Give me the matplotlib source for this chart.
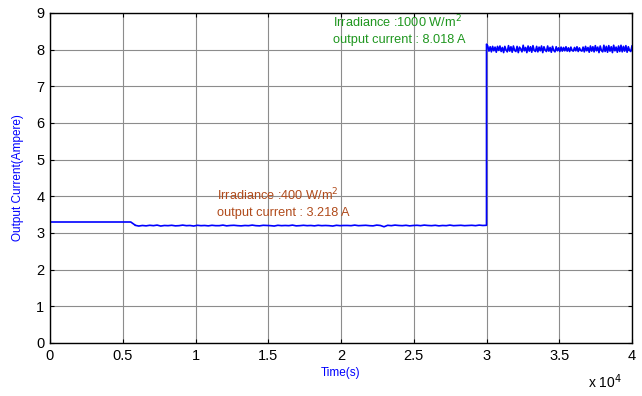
import numpy as np
import matplotlib
matplotlib.use('Agg')
import matplotlib.pyplot as plt

plt.rcParams['font.family'] = ['Liberation Sans', 'DejaVu Sans']

# step segment at start (time, current)
start_t = [0, 0, 5550, 5850]
start_i = [0.0, 3.30, 3.30, 3.215]

# irradiance 400 W/m2 readings, 5850 .. 30000
low_i = [3.21, 3.19, 3.205, 3.195, 3.21, 3.2, 3.215, 3.19, 3.205, 3.2,
         3.21, 3.195, 3.2, 3.215, 3.2, 3.205, 3.19, 3.21, 3.2, 3.205,
         3.195, 3.21, 3.2, 3.2, 3.215, 3.195, 3.205, 3.21, 3.2, 3.195,
         3.205, 3.2, 3.215, 3.2, 3.195, 3.21, 3.205, 3.2, 3.19, 3.21,
         3.2, 3.205, 3.2, 3.215, 3.195, 3.2, 3.21, 3.2, 3.205, 3.195,
         3.21, 3.2, 3.205, 3.2, 3.19, 3.21, 3.2, 3.205, 3.205, 3.2,
         3.215, 3.2, 3.205, 3.21, 3.2, 3.195, 3.215, 3.205, 3.17, 3.21,
         3.2, 3.215, 3.205, 3.2, 3.21, 3.195, 3.205, 3.21, 3.2, 3.215,
         3.205, 3.2, 3.21, 3.195, 3.205, 3.2, 3.215, 3.2, 3.205, 3.21,
         3.2, 3.205, 3.21, 3.2, 3.215, 3.205, 3.21]

# irradiance 1000 W/m2 readings, 30000 .. 40000
high_i = [8.15, 8.10, 7.96, 8.08, 7.94, 8.09, 7.97, 8.07, 7.93, 8.09,
          7.98, 8.10, 7.95, 8.06, 7.92, 8.09, 7.99, 7.94, 8.11, 7.96,
          8.08, 7.93, 8.10, 7.98, 7.95, 8.09, 7.92, 8.07, 8.02, 7.94,
          8.12, 7.97, 8.06, 7.92, 8.10, 7.96, 8.08, 7.93, 8.11, 7.98,
          7.95, 8.09, 7.94, 8.07, 7.97, 8.10, 7.92, 8.08, 7.99, 7.95,
          8.10, 7.96, 8.06, 7.93, 8.09, 7.98, 7.94, 8.08, 7.97, 8.05,
          7.95, 8.07, 7.96, 8.06, 7.97, 8.08, 7.96, 8.05, 7.95, 8.07,
          7.98, 7.96, 8.06, 7.97, 8.08, 7.95, 8.05, 7.98, 7.96, 8.07,
          7.94, 8.09, 7.97, 8.06, 7.93, 8.10, 7.96, 8.08, 7.94, 8.11,
          7.97, 8.07, 7.92, 8.10, 7.98, 7.94, 8.12, 7.95, 8.09, 7.93,
          8.11, 7.96, 8.08, 7.92, 8.12, 7.97, 8.07, 7.93, 8.10, 7.95,
          8.12, 7.94, 8.09, 7.96, 8.11, 7.93, 8.08, 7.98, 7.95, 8.10]

t_step = 30000
t_end = 40000

low_t = np.linspace(5850, t_step, len(low_i))
high_t = np.linspace(t_step, t_end, len(high_i))

t = np.concatenate([start_t, low_t, [t_step], high_t])
cur = np.concatenate([start_i, low_i, [low_i[-1]], high_i])

fig = plt.figure(figsize=(6.42, 3.96), dpi=100)
ax = fig.add_axes([50/642, 53/396, 582/642, 330/396])

ax.plot(t, cur, color='#0000ff', lw=1.2)

ax.set_xlim(0, 40000)
ax.set_ylim(0, 9)
ax.set_xticks(np.arange(0, 40001, 5000))
ax.set_xticklabels(['0', '0.5', '1', '1.5', '2', '2.5', '3', '3.5', '4'])
ax.set_yticks(np.arange(0, 10, 1))
ax.grid(True, color='#8c8c8c', lw=0.8, ls='-')
ax.set_axisbelow(True)
ax.tick_params(direction='in', top=True, right=True, length=3, labelsize=10.5, pad=4)
for s in ax.spines.values():
    s.set_linewidth(1.0)

ax.set_xlabel('Time(s)', color='#0000ff', fontsize=8.5, labelpad=3)
ax.set_ylabel('Output Current(Ampere)', color='#0000ff', fontsize=8.5, labelpad=9)
fig.text(588/642, 1 - 388/396, r'x 10$^4$', fontsize=10, va='baseline')

ax.text(11450, 4.05, r'Irradiance :400 W/m$^2$', color='#b04a1a', fontsize=9.2, va='center')
ax.text(11450, 3.55, 'output current : 3.218 A', color='#b04a1a', fontsize=9.2, va='center')
ax.text(19450, 8.75, r'Irradiance :1000 W/m$^2$', color='#1e961e', fontsize=9.2, va='center')
ax.text(19450, 8.25, 'output current : 8.018 A', color='#1e961e', fontsize=9.2, va='center')

fig.savefig('out.png', dpi=100)
